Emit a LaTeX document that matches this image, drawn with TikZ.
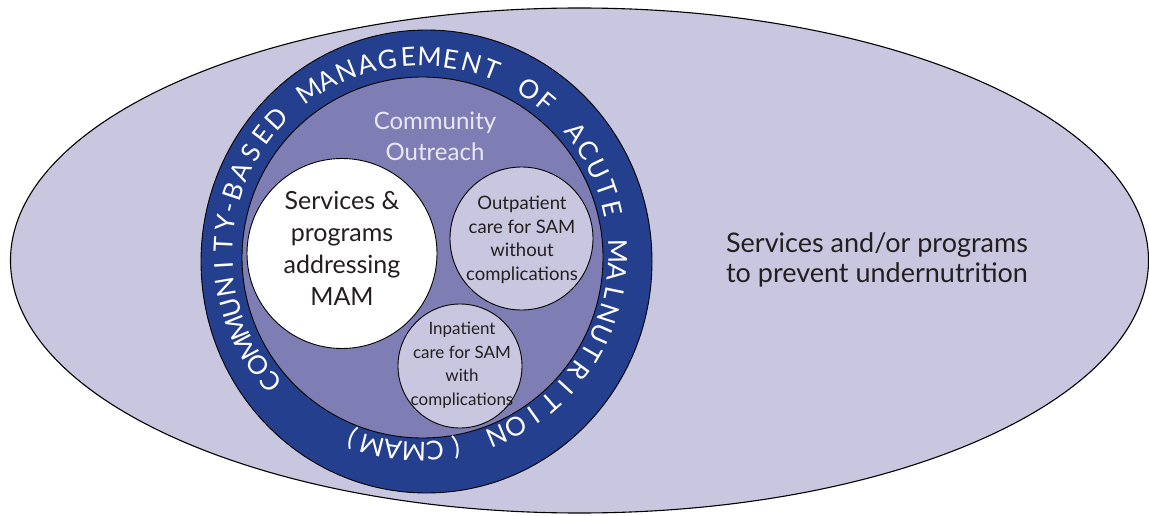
\documentclass[tikz,border=0pt]{standalone}
\usepackage{fontspec}
\setmainfont{Lato}
\usetikzlibrary{shapes.geometric}
\definecolor{outerfill}{HTML}{C9C7E0}
\definecolor{ringblue}{HTML}{243F8D}
\definecolor{innerpurple}{HTML}{7F7EB4}
\definecolor{labelink}{HTML}{231F20}
\definecolor{outreachink}{HTML}{E8E8F6}
\newcommand\ringfnt{\fontsize{26}{30}\selectfont}
\def\ringlist{C,O,M,M,U,N,I,T,Y,{\kern-5pt-\kern-5pt},B,A,S,E,D,\ ,M,A,N,A,G,E,M,E,N,T,\ ,O,F,\ ,A,C,U,T,E,\ ,M,A,L,N,U,T,R,I,T,I,O,N,\ ,{(},C,M,A,M,{)}}
\newdimen\ringtotw
\begin{document}
\begin{tikzpicture}[x=1pt,y=1pt,
  disc/.style={circle, draw=black, line width=0.9pt, inner sep=0pt},
  lbl/.style={text=labelink, align=center, inner sep=0pt},
  ringletter/.style={text=white, font=\ringfnt, anchor=base, inner sep=0pt}]
\useasboundingbox (0,0) rectangle (1149,515);
\node[ellipse, draw=black, line width=1.1pt, fill=outerfill, minimum width=1138pt, minimum height=505pt, inner sep=0pt] (prevent) at (579.5,254.5) {};
\node[ellipse, draw=black, line width=0.9pt, fill=ringblue, minimum width=451pt, minimum height=463pt, inner sep=0pt] (cmam) at (426.5,253.5) {};
\node[disc, fill=innerpurple, minimum size=361pt] (outreach) at (422.5,257.5) {};
\node[disc, fill=white, minimum size=190pt] (mam) at (342,261.5) {};
\node[disc, fill=outerfill, minimum size=143pt] (otp) at (521.5,276.5) {};
\node[disc, fill=outerfill, minimum size=124pt] (sc) at (460,149) {};
\coordinate (ringmid) at (420.5,261);
% texts
\node[lbl, font=\fontsize{25}{32}\selectfont] (mamtext) at (342,267) {Services \&\\programs\\addressing\\MAM};
\node[lbl, font=\fontsize{18.5}{23.5}\selectfont] (otptext) at (522,275) {Outpatient\\care for SAM\\without\\complications};
\node[lbl, font=\fontsize{17}{23.5}\selectfont] (sctext) at (462,149.8) {Inpatient\\care for SAM\\with\\complications};
\node[lbl, text=outreachink, font=\fontsize{24}{31}\selectfont] (outreachtext) at (435,378.5) {Community\\Outreach};
\node[lbl, font=\fontsize{27}{30}\selectfont] (preventtext) at (877,255) {Services and/or programs\\to prevent undernutrition};
% ring text
\global\ringtotw=0pt
\foreach \ch in \ringlist {\setbox0=\hbox{\ringfnt\ch}\global\advance\ringtotw by \wd0\relax}
\pgfmathsetmacro\ringR{197}
\pgfmathsetmacro\baseR{188}
\pgfmathsetmacro\startA{220.5}
\pgfmathsetmacro\endA{-110.5}
\pgfmathsetmacro\trk{((\startA-\endA)*pi/180*\ringR - \the\ringtotw)/54}
\xdef\curA{\startA}
\foreach \ch [count=\k] in \ringlist {
  \setbox0=\hbox{\ringfnt\ch}%
  \pgfmathsetmacro\midA{\curA - (\the\wd0/2)/\ringR*180/pi}
  \node[ringletter, rotate=\midA-90] (rl\k) at ([shift={(\midA:\baseR pt)}]ringmid) {\ch};
  \pgfmathsetmacro\nextA{\curA - (\the\wd0 + \trk)/\ringR*180/pi}
  \xdef\curA{\nextA}
}
\end{tikzpicture}
\end{document}
